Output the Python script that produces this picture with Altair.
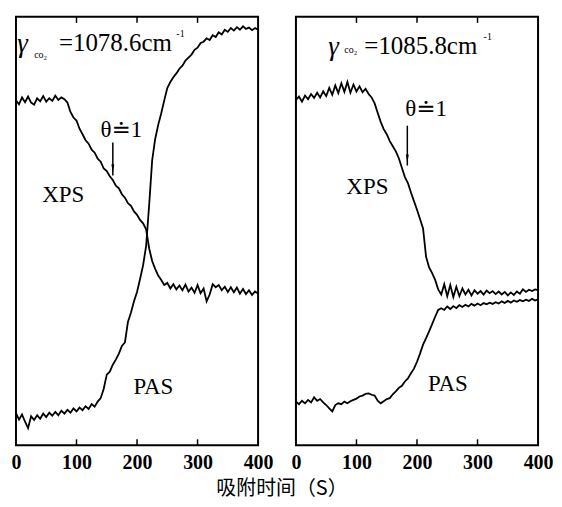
import altair as alt
import pandas as pd

# ---------------- data ----------------
xs = list(range(0, 405, 5))

left_xps = [80.5, 79.6, 81.2, 80.1, 81.4, 80.0, 79.5, 81.0, 80.3, 81.5,
            80.2, 81.0, 80.4, 81.6, 80.6, 81.2, 80.8, 80.0, 77.8, 76.5,
            75.8, 73.9, 72.6, 71.2, 70.4, 69.0, 68.3, 66.9, 66.2, 64.6,
            64.0, 62.8, 61.9, 60.6, 60.0, 58.6, 57.8, 56.5, 55.9, 54.6,
            53.8, 52.6, 51.8, 50.4, 46.0, 43.0, 41.2, 39.6, 38.6, 37.4,
            37.9, 36.6, 37.6, 36.4, 37.3, 36.2, 37.5, 35.9, 36.8, 35.6,
            37.4, 35.5, 36.6, 33.6, 35.2, 37.6, 36.9, 37.4, 36.2, 37.0,
            35.8, 36.9, 35.7, 36.8, 35.4, 36.5, 35.3, 36.2, 35.1, 35.9, 35.4]

left_pas = [7.5, 6.0, 7.2, 5.5, 4.0, 6.8, 5.9, 7.0, 6.2, 7.4,
            6.6, 7.6, 6.9, 7.8, 7.0, 8.1, 7.4, 8.3, 7.6, 8.6,
            7.9, 8.8, 8.2, 9.1, 8.5, 9.6, 9.0, 10.2, 11.0, 13.2,
            16.5, 17.2, 18.8, 20.0, 21.4, 23.2, 24.0, 28.8, 31.0, 33.6,
            35.8, 38.8, 42.0, 46.5, 56.0, 66.5, 71.5, 74.8, 77.5, 80.5,
            83.4, 84.8, 85.9, 86.8, 87.9, 88.6, 89.8, 90.5, 91.2, 92.3,
            92.8, 93.9, 94.2, 95.0, 94.6, 95.7, 95.3, 96.4, 95.9, 97.0,
            96.5, 97.4, 96.8, 97.6, 97.0, 97.8, 97.2, 97.5, 96.9, 97.4, 97.0]

right_xps = [80.6, 81.4, 80.2, 81.6, 80.8, 82.0, 81.1, 82.3, 81.2, 82.6,
             81.5, 83.4, 81.8, 84.0, 82.2, 84.5, 82.5, 84.8, 82.3, 84.2,
             82.6, 83.8, 82.4, 83.2, 82.0, 81.2, 79.8, 77.6, 75.5, 73.8,
             72.6, 71.0, 69.8, 68.6, 67.0, 64.8, 62.6, 61.2, 59.0, 57.0,
             55.0, 52.8, 50.6, 44.0, 41.5, 40.2, 38.6, 36.4, 35.2, 37.6,
             34.8, 37.4, 34.6, 37.0, 34.8, 36.6, 35.2, 36.3, 35.0, 36.2,
             35.4, 36.0, 35.2, 36.1, 35.5, 36.0, 35.3, 35.9, 35.2, 35.8,
             35.0, 35.7, 35.1, 35.9, 35.4, 36.4, 35.8, 36.3, 36.0, 36.4, 36.2]

right_pas = [10.2, 9.6, 10.4, 9.8, 10.6, 10.0, 11.2, 10.4, 10.8, 10.0,
             9.4, 8.6, 7.9, 9.4, 9.8, 9.6, 10.2, 9.8, 10.3, 10.6,
             10.9, 11.4, 11.6, 12.0, 12.1, 11.8, 11.6, 10.4, 9.8, 10.3,
             10.8, 11.0, 11.9, 12.6, 13.4, 13.9, 14.9, 15.6, 16.8, 17.9,
             19.5, 21.4, 23.5, 25.0, 26.6, 28.3, 30.0, 31.6, 32.0, 31.6,
             32.4, 31.8, 32.5, 32.0, 32.7, 32.3, 32.8, 32.4, 33.0, 32.6,
             33.1, 32.7, 33.2, 32.9, 33.3, 33.0, 33.4, 33.1, 33.6, 33.2,
             33.7, 33.3, 33.8, 33.5, 33.9, 33.6, 34.0, 33.7, 34.2, 33.8, 34.1]

tick_values = [0, 100, 200, 300, 400]
inner_ticks = [100, 200, 300]

# annotation texts and their data positions
labels = ["XPS", "PAS", "θ≐1"]
left_label_x = [78, 227, 174]
left_label_y = [58.4, 13.7, 73.5]
right_label_x = [118, 251, 215]
right_label_y = [60.2, 14.2, 78.4]

left_nu = "=1078.6cm"
right_nu = "=1085.8cm"
# gamma, subscript, main text, superscript positions
left_formula_x = [11, 30, 71, 265]
left_formula_y = [93.7, 91.2, 94.0, 96.0]
right_formula_x = [62, 80, 113, 310]
right_formula_y = [93.0, 92.3, 93.3, 95.3]

# arrows: x, top, bottom
left_arrow = [160, 70.7, 63.0]
right_arrow = [184, 74.6, 65.3]

FONT = "Liberation Serif, Times New Roman, DejaVu Serif, serif"
H = 430


def panel(xps, pas, width, lab_x, lab_y, nu, fx, fy, arrow):
    df = pd.DataFrame({
        "t": xs + xs,
        "v": xps + pas,
        "s": ["XPS"] * len(xs) + ["PAS"] * len(xs),
    })
    xsc = alt.Scale(domain=[0, 400], nice=False, zero=False)
    ysc = alt.Scale(domain=[0, 100], nice=False, zero=False)
    xaxis = alt.Axis(values=tick_values, title=None, ticks=False, domain=False,
                     grid=False, labelFont=FONT, labelFontSize=20,
                     labelFontWeight="bold", labelColor="black",
                     labelFlush=False, labelPadding=7, format="d")
    X = alt.X("t:Q", scale=xsc, axis=xaxis)
    Y = alt.Y("v:Q", scale=ysc, axis=None)

    lines = alt.Chart(df).mark_line(color="black", strokeWidth=1.8).encode(
        x=X, y=Y, detail="s:N")

    tdf = pd.DataFrame({"t": inner_ticks})
    bt = alt.Chart(tdf).mark_rule(color="black", strokeWidth=1.5).encode(
        x=X, y=alt.value(H), y2=alt.value(H - 6))
    tt = alt.Chart(tdf).mark_rule(color="black", strokeWidth=1.5).encode(
        x=X, y=alt.value(0), y2=alt.value(6))

    ldf = pd.DataFrame({"t": lab_x, "v": lab_y, "txt": labels})
    lab = alt.Chart(ldf).mark_text(font=FONT, fontSize=23, color="black",
                                   align="center", baseline="middle").encode(
        x=X, y=Y, text="txt:N")

    gdf = pd.DataFrame({"t": [fx[0]], "v": [fy[0]], "txt": ["γ"]})
    gam = alt.Chart(gdf).mark_text(font=FONT, fontSize=27, fontStyle="italic",
                                   color="black", align="center",
                                   baseline="middle").encode(x=X, y=Y, text="txt:N")
    sdf = pd.DataFrame({"t": [fx[1]], "v": [fy[1]], "txt": ["co₂"]})
    sub = alt.Chart(sdf).mark_text(font=FONT, fontSize=10, color="black",
                                   align="left", baseline="middle").encode(x=X, y=Y, text="txt:N")
    mdf = pd.DataFrame({"t": [fx[2]], "v": [fy[2]], "txt": [nu]})
    main = alt.Chart(mdf).mark_text(font=FONT, fontSize=25, color="black",
                                    align="left", baseline="middle").encode(x=X, y=Y, text="txt:N")
    pdf = pd.DataFrame({"t": [fx[3]], "v": [fy[3]], "txt": ["-1"]})
    sup = alt.Chart(pdf).mark_text(font=FONT, fontSize=10, color="black",
                                   align="left", baseline="middle").encode(x=X, y=Y, text="txt:N")

    adf = pd.DataFrame({"t": [arrow[0]], "v": [arrow[1]], "v2": [arrow[2]]})
    arr = alt.Chart(adf).mark_rule(color="black", strokeWidth=1.5).encode(
        x=X, y=Y, y2="v2:Q")
    hdf = pd.DataFrame({"t": [arrow[0]], "v": [arrow[2] + 1.6]})
    head = alt.Chart(hdf).mark_point(shape="M-0.35,-1L0.35,-1L0,1Z", filled=True,
                                     color="black", opacity=1, size=70).encode(x=X, y=Y)

    return alt.layer(lines, bt, tt, lab, gam, sub, main, sup, arr, head).properties(
        width=width, height=H)


left = panel(left_xps, left_pas, 243, left_label_x, left_label_y, left_nu,
             left_formula_x, left_formula_y, left_arrow)
right = panel(right_xps, right_pas, 243, right_label_x, right_label_y, right_nu,
              right_formula_x, right_formula_y, right_arrow)

chart = alt.hconcat(left, right, spacing=38, bounds="flush").properties(
    title=alt.TitleParams("吸附时间（S）", orient="bottom", anchor="middle",
                          font="Noto Sans CJK SC", fontSize=20, fontWeight="normal",
                          color="black", offset=6),
    padding={"left": 2, "top": 6, "right": 0, "bottom": 0},
    background="white",
).configure_view(stroke="black", strokeWidth=2)

chart.save("out.html", embed_options={"renderer": "svg", "actions": False})
